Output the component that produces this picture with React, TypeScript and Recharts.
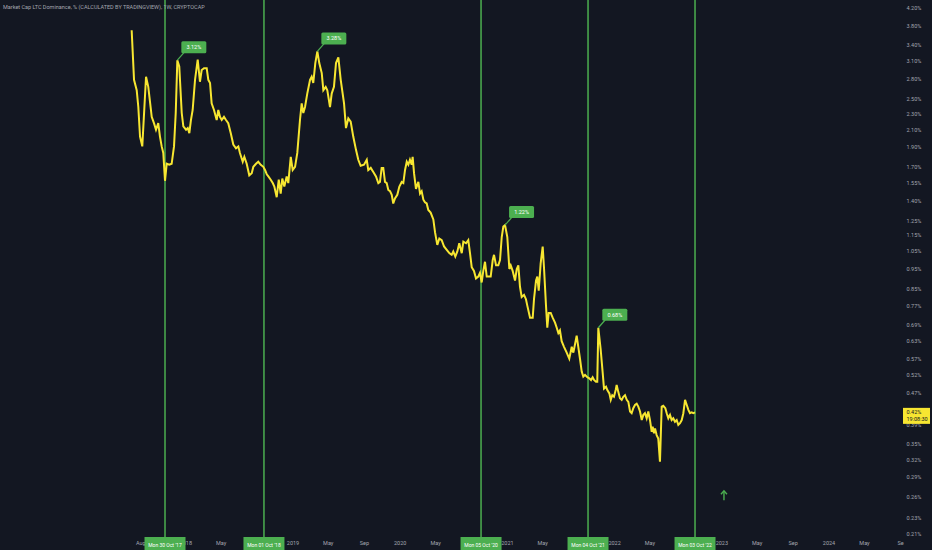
import React from 'react'
import { LineChart, Line, XAxis, YAxis, ReferenceLine, ReferenceDot } from 'recharts'

// LTC dominance (%), weekly (date as decimal year)
const dates = [
  2017.495, 2017.517, 2017.542, 2017.557, 2017.573, 2017.594, 2017.629, 2017.650, 2017.682, 2017.703,
  2017.722, 2017.743, 2017.759, 2017.775, 2017.790, 2017.806, 2017.822, 2017.846, 2017.868, 2017.890,
  2017.906, 2017.921, 2017.939, 2017.962, 2017.977, 2018.002, 2018.018, 2018.033, 2018.048, 2018.064,
  2018.086, 2018.111, 2018.132, 2018.148, 2018.170, 2018.195, 2018.210, 2018.226, 2018.241, 2018.263,
  2018.288, 2018.303, 2018.319, 2018.335, 2018.356, 2018.375, 2018.396, 2018.419, 2018.443, 2018.468,
  2018.490, 2018.505, 2018.531, 2018.546, 2018.568, 2018.592, 2018.615, 2018.630, 2018.655, 2018.676,
  2018.699, 2018.723, 2018.739, 2018.755, 2018.770, 2018.792, 2018.811, 2018.826, 2018.848, 2018.867,
  2018.885, 2018.900, 2018.919, 2018.941, 2018.956, 2018.979, 2018.997, 2019.019, 2019.040, 2019.065,
  2019.081, 2019.096, 2019.112, 2019.133, 2019.159, 2019.174, 2019.189, 2019.208, 2019.227, 2019.245,
  2019.268, 2019.283, 2019.305, 2019.320, 2019.345, 2019.361, 2019.382, 2019.401, 2019.423, 2019.445,
  2019.476, 2019.494, 2019.516, 2019.538, 2019.562, 2019.588, 2019.609, 2019.631, 2019.662, 2019.688,
  2019.702, 2019.725, 2019.749, 2019.774, 2019.796, 2019.811, 2019.827, 2019.842, 2019.858, 2019.874,
  2019.889, 2019.905, 2019.921, 2019.935, 2019.951, 2019.973, 2019.992, 2020.014, 2020.029, 2020.045,
  2020.061, 2020.076, 2020.091, 2020.107, 2020.116, 2020.129, 2020.147, 2020.169, 2020.185, 2020.200,
  2020.216, 2020.231, 2020.247, 2020.262, 2020.284, 2020.309, 2020.325, 2020.346, 2020.365, 2020.387,
  2020.409, 2020.434, 2020.458, 2020.480, 2020.495, 2020.514, 2020.533, 2020.551, 2020.574, 2020.589,
  2020.614, 2020.635, 2020.651, 2020.667, 2020.688, 2020.707, 2020.728, 2020.744, 2020.760, 2020.775,
  2020.791, 2020.807, 2020.822, 2020.844, 2020.863, 2020.875, 2020.894, 2020.915, 2020.931, 2020.947,
  2020.962, 2020.978, 2020.999, 2021.018, 2021.031, 2021.049, 2021.071, 2021.087, 2021.102, 2021.117,
  2021.133, 2021.155, 2021.173, 2021.186, 2021.211, 2021.236, 2021.248, 2021.267, 2021.279, 2021.292,
  2021.310, 2021.329, 2021.341, 2021.360, 2021.372, 2021.385, 2021.404, 2021.422, 2021.444, 2021.460,
  2021.475, 2021.490, 2021.506, 2021.528, 2021.553, 2021.577, 2021.600, 2021.615, 2021.631, 2021.646,
  2021.661, 2021.677, 2021.693, 2021.708, 2021.724, 2021.745, 2021.764, 2021.780, 2021.795, 2021.808,
  2021.826, 2021.838, 2021.848, 2021.870, 2021.889, 2021.901, 2021.920, 2021.932, 2021.951, 2021.964,
  2021.978, 2021.994, 2022.010, 2022.019, 2022.034, 2022.050, 2022.066, 2022.081, 2022.097, 2022.113,
  2022.128, 2022.144, 2022.159, 2022.174, 2022.190, 2022.206, 2022.221, 2022.237, 2022.253, 2022.268,
  2022.283, 2022.299, 2022.314, 2022.330, 2022.346, 2022.355, 2022.367, 2022.377, 2022.392, 2022.407,
  2022.423, 2022.439, 2022.454, 2022.473, 2022.486, 2022.501, 2022.517, 2022.532, 2022.547, 2022.563,
  2022.579, 2022.594, 2022.610, 2022.626, 2022.641, 2022.657, 2022.673, 2022.688, 2022.703, 2022.719,
  2022.734, 2022.750,
]

const dominance = [
  3.70, 2.79, 2.63, 2.39, 2.02, 1.91, 2.84, 2.68, 2.26, 2.18,
  2.10, 2.18, 2.02, 1.91, 1.84, 1.57, 1.73, 1.72, 1.73, 1.91,
  2.31, 3.12, 3.01, 2.31, 2.14, 2.10, 2.12, 2.06, 2.22, 2.35,
  2.79, 3.13, 2.76, 2.95, 2.98, 2.98, 2.79, 2.74, 2.44, 2.35,
  2.22, 2.35, 2.26, 2.22, 2.26, 2.22, 2.18, 2.06, 1.93, 1.89,
  1.91, 1.84, 1.75, 1.80, 1.73, 1.62, 1.64, 1.70, 1.73, 1.75,
  1.72, 1.70, 1.67, 1.63, 1.61, 1.58, 1.55, 1.52, 1.43, 1.58,
  1.46, 1.59, 1.52, 1.61, 1.55, 1.80, 1.67, 1.70, 1.84, 2.22,
  2.44, 2.31, 2.39, 2.58, 2.79, 2.84, 2.74, 3.07, 3.28, 3.07,
  2.90, 2.63, 2.68, 2.63, 2.39, 2.58, 2.68, 3.07, 3.17, 2.79,
  2.44, 2.12, 2.24, 2.20, 2.02, 1.87, 1.77, 1.71, 1.72, 1.77,
  1.67, 1.69, 1.65, 1.61, 1.55, 1.56, 1.69, 1.69, 1.56, 1.55,
  1.49, 1.48, 1.45, 1.38, 1.42, 1.45, 1.52, 1.56, 1.55, 1.67,
  1.75, 1.72, 1.77, 1.72, 1.80, 1.64, 1.50, 1.56, 1.46, 1.48,
  1.41, 1.39, 1.38, 1.33, 1.31, 1.26, 1.17, 1.09, 1.13, 1.12,
  1.08, 1.06, 1.04, 1.03, 1.05, 1.02, 1.05, 1.10, 1.04, 1.11,
  1.10, 1.12, 1.04, 0.96, 0.94, 0.90, 0.91, 0.93, 0.88, 0.94,
  0.99, 0.91, 0.91, 0.91, 1.00, 1.03, 0.97, 0.97, 1.00, 1.14,
  1.21, 1.22, 1.14, 0.95, 0.97, 0.94, 0.89, 0.95, 0.97, 0.86,
  0.81, 0.82, 0.80, 0.77, 0.72, 0.72, 0.80, 0.89, 0.91, 0.84,
  0.98, 1.08, 0.96, 0.77, 0.68, 0.74, 0.74, 0.72, 0.70, 0.68,
  0.66, 0.67, 0.63, 0.61, 0.59, 0.57, 0.61, 0.59, 0.62, 0.65,
  0.61, 0.57, 0.53, 0.515, 0.52, 0.513, 0.51, 0.505, 0.513, 0.505,
  0.50, 0.50, 0.68, 0.60, 0.525, 0.481, 0.486, 0.477, 0.468, 0.451,
  0.463, 0.459, 0.477, 0.491, 0.472, 0.455, 0.451, 0.459, 0.463, 0.451,
  0.446, 0.422, 0.418, 0.430, 0.438, 0.441, 0.434, 0.422, 0.402, 0.414,
  0.418, 0.406, 0.422, 0.402, 0.376, 0.387, 0.373, 0.383, 0.369, 0.362,
  0.317, 0.434, 0.436, 0.430, 0.418, 0.406, 0.414, 0.402, 0.406, 0.398,
  0.402, 0.391, 0.395, 0.402, 0.418, 0.451, 0.438, 0.426, 0.418, 0.420,
  0.418, 0.420,
]

// yearly marks (first weekly candle of October)
const eventDates = [2017.806, 2018.729, 2020.754, 2021.752, 2022.75]
const eventLabels = ["Mon 30 Oct '17", "Mon 01 Oct '18", "Mon 05 Oct '20", "Mon 04 Oct '21", "Mon 03 Oct '22"]

// flagged highs
const peakDates = [2017.921, 2019.227, 2020.978, 2021.848]
const peakValues = [3.12, 3.28, 1.22, 0.68]

// month labels that are not hidden under the October boxes
const monthTicks = [
  2017.581, 2018.0, 2018.329, 2019.0, 2019.329, 2019.666, 2020.0, 2020.331, 2021.0,
  2021.329, 2022.0, 2022.329, 2023.0, 2023.329, 2023.666, 2024.0, 2024.331, 2024.667,
]
const monthLabels = [
  'Aug', '2018', 'May', '2019', 'May', 'Sep', '2020', 'May', '2021',
  'May', '2022', 'May', '2023', 'May', 'Sep', '2024', 'May', 'Se',
]

const priceTicks = [
  4.2, 3.8, 3.4, 3.1, 2.8, 2.5, 2.3, 2.1, 1.9, 1.7, 1.55, 1.4, 1.25, 1.15, 1.05, 0.95,
  0.85, 0.77, 0.69, 0.63, 0.57, 0.52, 0.47, 0.39, 0.35, 0.32, 0.29, 0.26, 0.23, 0.21, 0.42,
]
const lastValue = 0.42
const lastTime = '19:08:30'

const arrowDate = 2023.02
const arrowValue = 0.262

const BG = '#131722'
const GREEN = '#4caf50'
const YELLOW = '#f7e631'
const AXIS_TEXT = '#a3a6af'
const FONT = 'Roboto, sans-serif'

const rows = dates.map((t, i) => ({ t, v: dominance[i] }))

function TimeTick({ x, y, payload }: any) {
  const ei = eventDates.indexOf(payload.value)
  if (ei >= 0) {
    return (
      <g>
        <line x1={x} x2={x} y1={y} y2={y + 4} stroke={GREEN} strokeWidth={1.5} />
        <rect x={x - 20.5} y={y + 4} width={41} height={14} fill={GREEN} />
        <text x={x} y={y + 13.5} textAnchor="middle" fill="#ffffff" fontSize={5} fontFamily={FONT}>
          {eventLabels[ei]}
        </text>
      </g>
    )
  }
  const mi = monthTicks.indexOf(payload.value)
  return (
    <text x={x} y={y + 11.5} textAnchor="middle" fill={AXIS_TEXT} fontSize={5.5} fontFamily={FONT}>
      {monthLabels[mi]}
    </text>
  )
}

function PriceTick({ x, y, payload }: any) {
  if (payload.value === lastValue) {
    return (
      <g>
        <rect x={x - 2} y={y - 4.5} width={27} height={16} fill={YELLOW} />
        <text x={x + 1.5} y={y + 2} fill={BG} fontSize={5.5} fontFamily={FONT}>
          {lastValue.toFixed(2)}%
        </text>
        <text x={x + 1.5} y={y + 9} fill={BG} fontSize={5.5} fontFamily={FONT}>
          {lastTime}
        </text>
      </g>
    )
  }
  return (
    <text x={x + 1.5} y={y + 2} fill={AXIS_TEXT} fontSize={5.5} fontFamily={FONT}>
      {payload.value.toFixed(2)}%
    </text>
  )
}

function PeakFlag({ cx, cy, label }: any) {
  return (
    <g>
      <line x1={cx} y1={cy} x2={cx + 7} y2={cy - 8} stroke={GREEN} strokeWidth={1.2} />
      <rect x={cx + 4} y={cy - 19} width={25} height={12} rx={1.5} fill={GREEN} />
      <text x={cx + 16.5} y={cy - 11} textAnchor="middle" fill="#ffffff" fontSize={5.5} fontFamily={FONT}>
        {label}
      </text>
    </g>
  )
}

function Arrow({ cx, cy }: any) {
  return (
    <g stroke={GREEN} strokeWidth={1.4} fill="none">
      <line x1={cx} y1={cy + 5} x2={cx} y2={cy - 4} />
      <polyline points={`${cx - 3},${cy - 1} ${cx},${cy - 4.5} ${cx + 3},${cy - 1}`} />
    </g>
  )
}

export default function App() {
  return (
    <div style={{ position: 'absolute', left: 0, top: 0, width: 932, height: 550, background: BG }}>
      <LineChart width={932} height={550} data={rows} margin={{ top: 0, right: 0, bottom: 0, left: 0 }}>
        <XAxis
          dataKey="t"
          type="number"
          domain={[2016.2668, 2024.7087]}
          allowDataOverflow
          ticks={[...monthTicks, ...eventDates]}
          interval={0}
          height={17}
          axisLine={false}
          tickLine={false}
          tickSize={0}
          tickMargin={0}
          tick={<TimeTick />}
        />
        <YAxis
          orientation="right"
          scale="log"
          type="number"
          domain={[0.2113, 4.396]}
          allowDataOverflow
          ticks={priceTicks}
          interval={0}
          width={27}
          axisLine={false}
          tickLine={false}
          tickSize={0}
          tickMargin={0}
          tick={<PriceTick />}
        />
        {eventDates.map((d) => (
          <ReferenceLine key={d} x={d} stroke={GREEN} strokeWidth={1.5} />
        ))}
        <Line
          type="linear"
          dataKey="v"
          stroke={YELLOW}
          strokeWidth={2}
          dot={false}
          activeDot={false}
          isAnimationActive={false}
        />
        {peakDates.map((d, i) => (
          <ReferenceDot
            key={d}
            x={d}
            y={peakValues[i]}
            r={0}
            shape={(p: any) => <PeakFlag cx={p.cx} cy={p.cy} label={`${peakValues[i].toFixed(2)}%`} />}
          />
        ))}
        <ReferenceDot x={arrowDate} y={arrowValue} r={0} shape={(p: any) => <Arrow cx={p.cx} cy={p.cy} />} />
      </LineChart>
      <div
        style={{
          position: 'absolute',
          left: 3,
          top: 4,
          fontFamily: FONT,
          fontSize: 5.5,
          color: AXIS_TEXT,
          whiteSpace: 'nowrap',
        }}
      >
        Market Cap LTC Dominance, % (CALCULATED BY TRADINGVIEW), 1W, CRYPTOCAP
      </div>
    </div>
  )
}
